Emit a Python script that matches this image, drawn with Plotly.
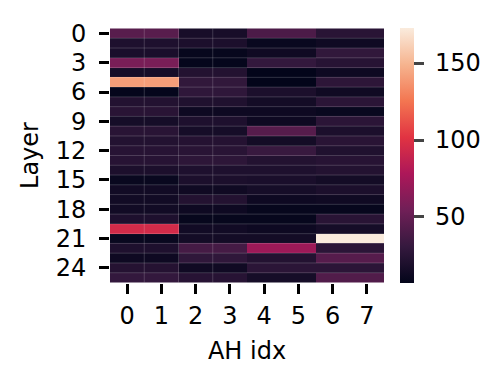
import plotly.graph_objects as go

layers = list(range(26))
heads = list(range(8))

# values per layer, 4 head-pairs (0-1, 2-3, 4-5, 6-7)
g01 = [45, 20, 18, 58, 16, 141, 8, 22, 25, 16, 25, 22, 24, 24, 19, 10, 14, 14, 14, 20, 95, 10, 20, 12, 23, 30]
g23 = [17, 19, 9, 8, 22, 29, 28, 21, 12, 20, 16, 23, 25, 27, 20, 19, 13, 22, 12, 9, 14, 15, 37, 28, 13, 24]
g45 = [40, 10, 13, 30, 7, 7, 19, 15, 12, 12, 44, 15, 32, 22, 20, 18, 16, 12, 9, 9, 12, 15, 72, 22, 26, 16]
g67 = [25, 13, 29, 24, 12, 27, 13, 26, 10, 26, 19, 25, 21, 24, 22, 15, 19, 13, 9, 25, 16, 173, 26, 44, 26, 42]
cbar_ticks = [50, 100, 150]

z = [[a, a, b, b, c, c, d, d] for a, b, c, d in zip(g01, g23, g45, g67)]
zmin = min(min(r) for r in z)
zmax = max(max(r) for r in z)

rocket = [
    [0.0, "#03051a"],
    [0.143, "#35193e"],
    [0.286, "#701f57"],
    [0.429, "#ad1759"],
    [0.571, "#e13342"],
    [0.714, "#f37651"],
    [0.857, "#f6b48f"],
    [1.0, "#faebdd"],
]

font = dict(family="DejaVu Sans", size=24, color="black")

fig = go.Figure(go.Heatmap(
    z=z, x=heads, y=layers, colorscale=rocket, zmin=zmin, zmax=zmax,
    colorbar=dict(
        thickness=14, len=1.0, lenmode="fraction", x=1.0, xpad=16, y=0.5, ypad=0,
        outlinewidth=0, ticks="outside", ticklen=10, tickwidth=2.5,
        tickvals=cbar_ticks, showticklabels=False,
    ),
))

# colorbar tick labels
for t in cbar_ticks:
    fig.add_annotation(text=str(t), xref="paper", yref="paper", x=1.179, y=(t - zmin) / (zmax - zmin),
                       xanchor="left", yanchor="middle", showarrow=False, font=font)

shapes = []
for i in range(25):
    shapes.append(dict(type="line", xref="x", yref="y", x0=-0.5, x1=7.5, y0=i + 0.5, y1=i + 0.5,
                       line=dict(color="rgba(255,255,255,0.18)", width=1)))
for j in [0.5, 1.5, 2.5]:
    shapes.append(dict(type="line", xref="x", yref="y", x0=j, x1=j, y0=-0.5, y1=25.5,
                       line=dict(color="rgba(255,255,255,0.18)", width=1)))

fig.update_layout(
    width=496, height=379,
    margin=dict(l=102, r=120, t=20, b=104),
    paper_bgcolor="white", plot_bgcolor="white",
    font=font,
    shapes=shapes,
    xaxis=dict(tickvals=heads, ticks="outside", ticklen=10, tickwidth=2.5, tickcolor="black",
               ticklabelstandoff=1,
               showgrid=False, zeroline=False, title=dict(text="AH idx", font=font, standoff=13),
               range=[-0.5, 7.5], automargin=False),
    yaxis=dict(tickvals=list(range(0, 26, 3)), ticks="outside", ticklen=10, tickwidth=2.5,
               tickcolor="black", showgrid=False, zeroline=False, autorange="reversed",
               ticklabelstandoff=8,
               title=dict(text="Layer", font=font, standoff=10), automargin=False),
)

fig.write_html("out.html")
